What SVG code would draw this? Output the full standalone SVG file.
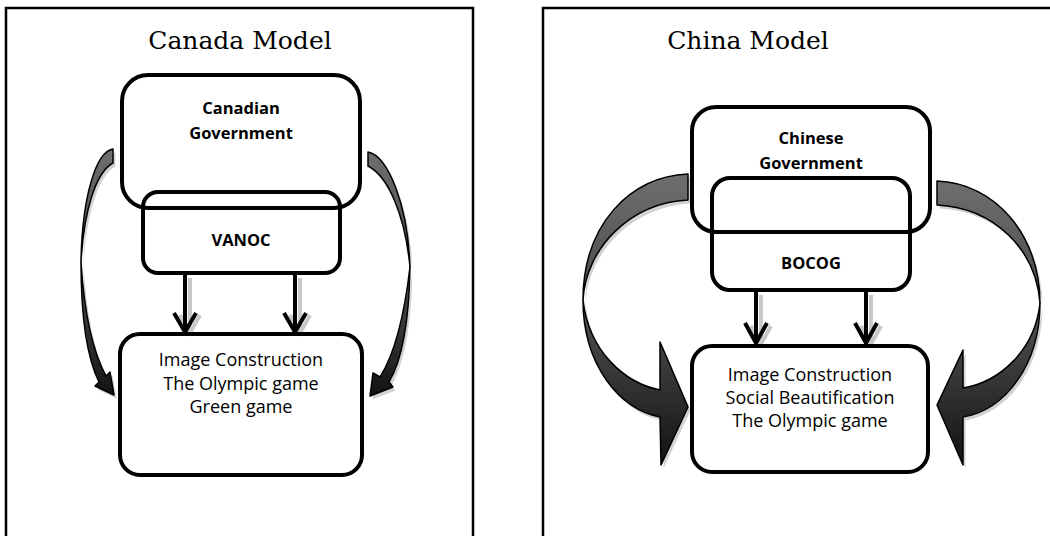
<svg xmlns="http://www.w3.org/2000/svg" width="1050" height="536" viewBox="0 0 1050 536">
<style>
.frame{fill:none;stroke:#000;stroke-width:2.5}
.box{fill:none;stroke:#000;stroke-width:4}
.title{font-family:"DejaVu Serif","Liberation Serif",serif;font-size:25px;fill:#000;text-anchor:middle}
.bold{font-family:"Open Sans","Noto Sans",sans-serif;font-size:16.5px;font-weight:bold;fill:#000;text-anchor:middle}
.reg{font-family:"Open Sans","Noto Sans",sans-serif;font-size:18px;fill:#000;text-anchor:middle}
.dn{fill:none;stroke:#000;stroke-width:4}
.dns{fill:none;stroke:#c8c8c8;stroke-width:4}
.arr{stroke:#000;stroke-width:1.5;stroke-linejoin:round}
.sh{fill:#d2d2d2;stroke:none}
</style>
<defs>
<linearGradient id="gUp" x1="0" y1="0" x2="0" y2="1"><stop offset="0" stop-color="#6e6e6e"/><stop offset="1" stop-color="#4a4a4a"/></linearGradient>
<linearGradient id="gLo" x1="0" y1="0" x2="0" y2="1"><stop offset="0" stop-color="#555"/><stop offset="1" stop-color="#121212"/></linearGradient>
<path id="cLu" d="M113,149 C95,152 82,200 81,262 C84,210 96,172 113,163 Z"/>
<path id="cLl" d="M81,262 C81,320 88,360 99,382 L95,386 L114,395 L110,372 L106,376 C92,350 84,310 81,262 Z"/>
<path id="cRu" d="M368,152 C388,156 408,205 410,267 C405,215 388,176 368,166 Z"/>
<path id="cRl" d="M410,267 C409,325 401,362 389,382 L393,387 L370,396 L373,373 L380,377 C397,350 405,310 410,267 Z"/>
<path id="hLu" d="M688,174 C630,176 583,225 583,300 C586,248 630,203 688,200 Z"/>
<path id="hLl" d="M583,300 C583,365 620,410 660,417 L661,465 L688,407 L660,342 L660,390 C625,383 589,352 583,300 Z"/>
<path id="hRu" d="M937,181 C995,183 1040,235 1040,303 C1036,250 995,208 937,205 Z"/>
<path id="hRl" d="M1040,303 C1040,365 1005,410 963,417 L963,465 L937,405 L963,350 L963,388 C1000,382 1035,350 1040,303 Z"/>
</defs>
<rect width="1050" height="536" fill="#fff"/>
<g id="frame-canada"><rect class="frame" x="6" y="8" width="467" height="540"/></g>
<g id="frame-china"><rect class="frame" x="543" y="8" width="520" height="540"/></g>
<g id="title-canada"><text class="title" x="240" y="49">Canada Model</text></g>
<g id="title-china"><text class="title" x="748" y="49">China Model</text></g>

<g id="connectors">
  <g transform="translate(2.5,3.5)" class="sh">
    <use href="#cLu"/><use href="#cLl"/><use href="#cRu"/><use href="#cRl"/>
    <use href="#hLu"/><use href="#hLl"/><use href="#hRu"/><use href="#hRl"/>
  </g>
  <g id="c-left" class="arr">
    <use href="#cLu" fill="url(#gUp)"/>
    <use href="#cLl" fill="url(#gLo)"/>
  </g>
  <g id="c-right" class="arr">
    <use href="#cRu" fill="url(#gUp)"/>
    <use href="#cRl" fill="url(#gLo)"/>
  </g>
  <g id="ch-left" class="arr">
    <use href="#hLu" fill="url(#gUp)"/>
    <use href="#hLl" fill="url(#gLo)"/>
  </g>
  <g id="ch-right" class="arr">
    <use href="#hRu" fill="url(#gUp)"/>
    <use href="#hRl" fill="url(#gLo)"/>
  </g>
  <g id="down-arrows">
    <path class="dns" d="M190,278 V330 M180,315 L190,333 L200,315"/>
    <path class="dns" d="M300,278 V330 M290,315 L300,333 L310,315"/>
    <path class="dn" d="M185,273 V330 M174,313 L185,332 L196,313"/>
    <path class="dn" d="M295,273 V330 M284,313 L295,332 L306,313"/>
    <path class="dns" d="M761,295 V341 M751,326 L761,344 L771,326"/>
    <path class="dns" d="M871,295 V341 M861,326 L871,344 L881,326"/>
    <path class="dn" d="M756,290 V341 M745,323 L756,343 L767,323"/>
    <path class="dn" d="M866,290 V341 M855,323 L866,343 L877,323"/>
  </g>
</g>

<g id="canadian-government">
  <rect class="box" x="122" y="75" width="238" height="133" rx="26"/>
  <text class="bold" x="241" y="114">Canadian</text>
  <text class="bold" x="241" y="139">Government</text>
</g>
<g id="vanoc">
  <rect class="box" x="143" y="192" width="197" height="81" rx="15"/>
  <text class="bold" x="241" y="246">VANOC</text>
</g>
<g id="canada-outcomes">
  <rect class="box" x="120" y="334" width="242" height="141" rx="20"/>
  <text class="reg" x="241" y="366">Image Construction</text>
  <text class="reg" x="241" y="390">The Olympic game</text>
  <text class="reg" x="241" y="413">Green game</text>
</g>

<g id="chinese-government">
  <rect class="box" x="692" y="107" width="238" height="125" rx="24"/>
  <text class="bold" x="811" y="144">Chinese</text>
  <text class="bold" x="811" y="169">Government</text>
</g>
<g id="bocog">
  <rect class="box" x="712" y="178" width="198" height="112" rx="18"/>
  <text class="bold" x="811" y="269">BOCOG</text>
</g>
<g id="china-outcomes">
  <rect class="box" x="692" y="346" width="236" height="126" rx="20"/>
  <text class="reg" x="810" y="381">Image Construction</text>
  <text class="reg" x="810" y="404">Social Beautification</text>
  <text class="reg" x="810" y="427">The Olympic game</text>
</g>
</svg>
